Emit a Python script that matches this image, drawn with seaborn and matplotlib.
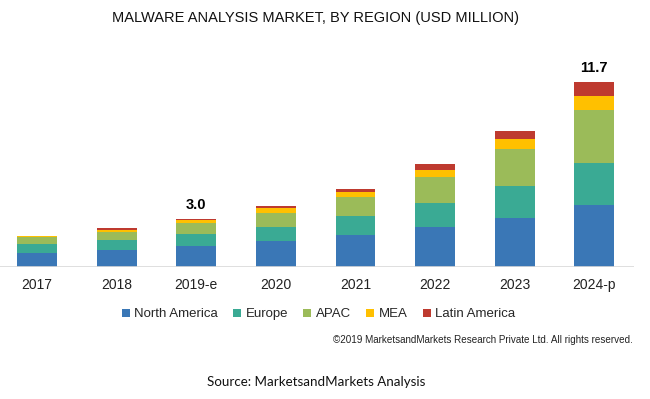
import matplotlib
matplotlib.use("Agg")
import matplotlib.pyplot as plt
import seaborn as sns
import pandas as pd
import numpy as np

years = ["2017", "2018", "2019-e", "2020", "2021", "2022", "2023", "2024-p"]
north_america = [0.85, 1.06, 1.33, 1.63, 2.02, 2.49, 3.10, 3.90]
europe = [0.55, 0.61, 0.75, 0.91, 1.21, 1.52, 2.03, 2.69]
apac = [0.47, 0.55, 0.69, 0.89, 1.20, 1.69, 2.33, 3.35]
mea = [0.06, 0.13, 0.19, 0.28, 0.30, 0.45, 0.62, 0.89]
latin_america = [0.04, 0.09, 0.06, 0.14, 0.17, 0.34, 0.54, 0.87]
labelled = {"2019-e": "3.0", "2024-p": "11.7"}

regions = ["North America", "Europe", "APAC", "MEA", "Latin America"]
colors = ["#3A77B6", "#3AAA94", "#9BBB59", "#FFC000", "#BE3A2F"]

sns.set_style("white")
plt.rcParams["font.family"] = ["Liberation Sans", "DejaVu Sans"]

df = pd.DataFrame({"year": years, "North America": north_america, "Europe": europe,
                   "APAC": apac, "MEA": mea, "Latin America": latin_america})

fig = plt.figure(figsize=(6.5, 3.99), dpi=100)
ax = fig.add_axes([0.0, 0.332, 634 / 650, 0.513])

bottom = np.zeros(len(years))
for reg, col in zip(regions, colors):
    sns.barplot(data=df, x="year", y=reg, order=years, color=col, width=0.5,
                bottom=bottom, ax=ax, label=reg, saturation=1, linewidth=0)
    bottom = bottom + df[reg].values

# totals above selected bars
for i, y in enumerate(years):
    if y in labelled:
        ax.text(i, bottom[i] + 0.45, labelled[y], ha="center", va="bottom",
                fontsize=10.5, fontweight="bold", color="#000000")

ax.set_xlim(-0.465, 7.5)
ax.set_ylim(0, 13)
ax.axhline(0, color="#d9d9d9", lw=1.2)
sns.despine(ax=ax, left=True, bottom=True)
ax.set_yticks([])
ax.set_xlabel("")
ax.set_ylabel("")
ax.tick_params(axis="x", length=0, pad=8, labelsize=10, labelcolor="#222222")

handles, labels = ax.get_legend_handles_labels()
if ax.legend_:
    ax.legend_.remove()
fig.legend(handles, labels, loc="center", bbox_to_anchor=(0.49, 0.212), ncol=5,
           frameon=False, fontsize=9.5, handlelength=0.6, handleheight=0.6,
           handletextpad=0.35, columnspacing=1.15)

fig.text(0.485, 0.955, "MALWARE ANALYSIS MARKET, BY REGION (USD MILLION)",
         ha="center", va="center", fontsize=10.5, color="#111111")
fig.text(0.974, 0.148, "©2019 MarketsandMarkets Research Private Ltd. All rights reserved.",
         ha="right", va="center", fontsize=7.1, color="#222222")
fig.text(0.487, 0.043, "Source: MarketsandMarkets Analysis", ha="center", va="center",
         fontsize=9.6, color="#111111", family=["Lato", "DejaVu Sans"])

fig.savefig("out.png", dpi=100)
